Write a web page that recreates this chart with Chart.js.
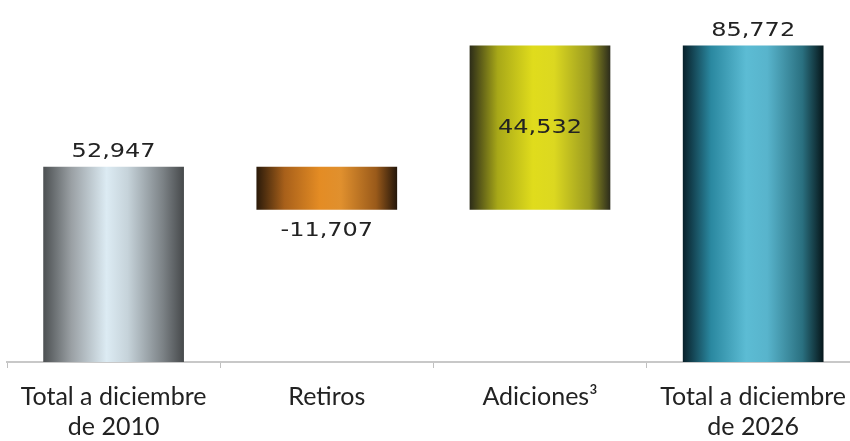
<!DOCTYPE html>
<html>
<head>
<meta charset="utf-8">
<script src="https://cdn.jsdelivr.net/npm/chart.js@4.4.0/dist/chart.umd.min.js"></script>
<style>
  html, body { margin: 0; padding: 0; background: #fff; overflow: hidden; }
  #wrap { position: absolute; left: 0; top: 0; width: 860px; height: 441px; }
</style>
</head>
<body>
<div id="wrap"><canvas id="grafica"></canvas></div>
<script>
// Categorías y valores (MW)
const categorias = [['Total a diciembre', 'de 2010'], 'Retiros', 'Adiciones³', ['Total a diciembre', 'de 2026']];
const valores = [52947, -11707, 44532, 85772];
const esTotal = [true, false, false, true];

// Colores del degradado horizontal de cada barra
const degradados = [
  ['#4c5052', '#9aa0a4', '#dcebf3', '#c6d3da', '#7c8286', '#46494b'],
  ['#2a1a0a', '#a8601a', '#e48c24', '#e0902e', '#9a5a1a', '#24160a'],
  ['#2c2c18', '#a8a818', '#e0dc1c', '#dcd820', '#9a9a20', '#2c2c1c'],
  ['#08202a', '#2a88a0', '#5cbcd4', '#58b4cc', '#2a7080', '#06161a']
];

// Rangos flotantes de la cascada
let acumulado = 0;
const rangos = valores.map(function (v, i) {
  if (esTotal[i]) { acumulado = v; return [0, v]; }
  const ini = acumulado;
  acumulado += v;
  return [Math.min(ini, acumulado), Math.max(ini, acumulado)];
});

const anchoBarra = 0.66;

function colorBarra(ctx) {
  const chart = ctx.chart;
  const area = chart.chartArea;
  const colores = degradados[ctx.dataIndex];
  if (!area) return colores[2];
  const x = chart.scales.x.getPixelForValue(ctx.dataIndex);
  const w = (area.width / categorias.length) * anchoBarra;
  const g = chart.ctx.createLinearGradient(x - w / 2, 0, x + w / 2, 0);
  const paradas = [0, 0.2, 0.45, 0.6, 0.85, 1];
  colores.forEach(function (c, k) { g.addColorStop(paradas[k], c); });
  return g;
}

// Etiquetas de valor (letra algo ensanchada)
const etiquetas = {
  id: 'etiquetas',
  afterDatasetsDraw: function (chart) {
    const ctx = chart.ctx;
    const meta = chart.getDatasetMeta(0);
    meta.data.forEach(function (bar, i) {
      const v = valores[i];
      const texto = v.toLocaleString('en-US');
      const top = Math.min(bar.y, bar.base);
      const bottom = Math.max(bar.y, bar.base);
      let y;
      if (esTotal[i]) y = top - 15;
      else if (v < 0) y = bottom + 21;
      else y = (top + bottom) / 2;
      ctx.save();
      ctx.translate(bar.x, y);
      ctx.scale(1.2, 1);
      ctx.font = '20px "DejaVu Sans"';
      ctx.fillStyle = '#222';
      ctx.textAlign = 'center';
      ctx.textBaseline = 'middle';
      ctx.fillText(texto, 0, 0);
      ctx.restore();
    });
  }
};

new Chart(document.getElementById('grafica'), {
  type: 'bar',
  data: {
    labels: categorias,
    datasets: [{
      data: rangos,
      backgroundColor: colorBarra,
      borderWidth: 0,
      borderSkipped: false,
      categoryPercentage: 1,
      barPercentage: anchoBarra
    }]
  },
  options: {
    responsive: true,
    maintainAspectRatio: false,
    animation: false,
    layout: { padding: { left: 7, right: 0, top: 30, bottom: 0 } },
    plugins: { legend: { display: false }, tooltip: { enabled: false } },
    scales: {
      x: {
        afterFit: function (scale) { scale.height = 79; },
        border: { color: '#c8c8c8', width: 2 },
        grid: { drawOnChartArea: false, color: '#c0c0c0', tickLength: 6, offset: true },
        ticks: {
          color: '#222',
          padding: 14,
          maxRotation: 0,
          font: { family: 'Lato', size: 25, lineHeight: 1.2 }
        }
      },
      y: {
        display: false,
        min: 0,
        max: 90000
      }
    }
  },
  plugins: [etiquetas]
});
</script>
</body>
</html>
